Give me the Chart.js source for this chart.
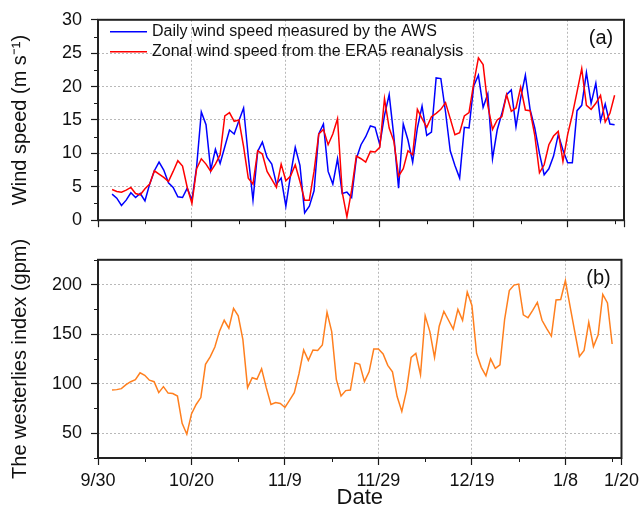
<!DOCTYPE html>
<html>
<head>
<meta charset="utf-8">
<script src="https://cdn.jsdelivr.net/npm/chart.js@4.4.1/dist/chart.umd.min.js"></script>
<style>
  html, body { margin: 0; padding: 0; background: #fff; }
  #wrap { position: relative; width: 644px; height: 511px; }
  #c1 { position: absolute; left: 0; top: 0; }
  #c2 { position: absolute; left: 0; top: 240px; }
</style>
</head>
<body>
<div id="wrap">
  <canvas id="c1" width="644" height="240"></canvas>
  <canvas id="c2" width="644" height="271"></canvas>
</div>
<script>
// days counted from 9/30; first value is on 10/3
const firstDay = 3;
const xTickDays = [0, 20, 40, 60, 80, 100, 112];
const xTickLabels = ['9/30', '10/20', '11/9', '11/29', '12/19', '1/8', '1/20'];
const xMinorDays = [10, 30, 50, 70, 90, 110];

const awsWind = [
  3.9, 3.3, 2.2, 3.0, 4.1, 3.4, 4.0, 2.9, 5.4, 7.4,
  8.7, 7.5, 5.6, 4.9, 3.5, 3.4, 4.8, 3.0, 8.0, 16.2,
  14.3, 7.5, 10.6, 8.5, 11.0, 13.5, 12.9, 14.9, 16.8, 9.5,
  3.0, 10.3, 11.7, 9.4, 8.4, 5.4, 6.3, 2.1, 6.8, 10.9,
  8.2, 1.1, 2.1, 4.4, 12.9, 14.4, 7.3, 5.4, 9.2, 4.0,
  4.2, 3.4, 9.2, 11.3, 12.5, 14.1, 13.9, 11.3, 15.7, 18.8,
  12.5, 4.8, 14.4, 12.0, 8.7, 13.8, 17.1, 12.7, 13.2, 21.3,
  21.2, 16.2, 10.4, 8.2, 6.3, 13.9, 13.8, 20.1, 21.7, 16.9,
  18.9, 9.2, 13.5, 16.0, 18.8, 19.5, 14.0, 18.3, 21.7, 16.6,
  13.8, 10.0, 6.8, 7.7, 9.6, 12.8, 10.5, 8.6, 8.6, 16.4,
  17.2, 22.1, 17.5, 20.5, 14.9, 17.4, 14.4, 14.3
];

const era5Wind = [
  4.6, 4.3, 4.2, 4.5, 4.9, 4.0, 3.8, 4.7, 5.4, 7.4,
  6.9, 6.4, 5.8, 7.3, 8.9, 8.1, 4.9, 2.5, 7.7, 9.2,
  8.4, 7.3, 8.4, 9.8, 15.6, 16.1, 14.8, 15.0, 11.0, 6.3,
  5.4, 10.4, 9.9, 7.3, 6.1, 4.9, 8.4, 5.9, 6.6, 8.3,
  5.8, 3.0, 3.0, 7.3, 12.9, 13.6, 11.3, 12.9, 15.2, 4.2,
  0.5, 4.5, 9.6, 9.2, 8.7, 10.3, 10.2, 10.9, 18.2, 13.8,
  11.8, 6.6, 7.7, 10.4, 9.8, 16.6, 15.2, 13.9, 15.5, 16.0,
  16.6, 17.6, 15.2, 12.8, 13.1, 15.6, 16.1, 20.5, 24.3, 23.3,
  17.2, 13.6, 15.0, 15.5, 18.8, 16.3, 16.8, 19.9, 16.5, 16.4,
  12.7, 7.1, 8.3, 11.3, 12.6, 13.3, 8.8, 12.8, 15.8, 19.2,
  22.7, 17.2, 16.6, 17.5, 18.7, 14.7, 16.0, 18.7
];

const westerlies = [
  93.5, 94, 95, 99, 102, 104, 111, 108.5, 103.5, 102,
  91, 97, 90.5, 90, 87.5, 60, 49, 69.5, 79, 86,
  119.5, 127, 137, 153, 164, 156, 176, 168.5, 144.5, 96,
  106, 104.5, 115, 96, 79, 81, 80, 76, 83.5, 91,
  110, 134, 123.5, 134, 133.5, 139, 172, 152.5, 104, 87.5,
  93, 93.5, 121, 119.5, 102, 112, 135, 135, 130, 118.5,
  112, 87, 72, 93, 126.5, 130.5, 109, 168.5, 152.5, 126.5,
  158, 173, 164, 155, 175, 164, 192.5, 179, 130.5, 116.5,
  108, 125, 115.5, 119, 165, 194, 199.5, 200.5, 169.5, 166.5,
  174, 182, 164, 155.5, 148, 184.5, 185, 204, 178, 152.5,
  127.5, 133.5, 162, 137.5, 149, 190, 181.5, 140
];

const windTicks = [0, 5, 10, 15, 20, 25, 30];
const windMinor = [2.5, 7.5, 12.5, 17.5, 22.5, 27.5];
const westTicks = [50, 100, 150, 200];
const westMinor = [25, 75, 125, 175, 225];

const FONT = "'Liberation Sans', Arial, sans-serif";
Chart.defaults.font.family = FONT;
Chart.defaults.color = '#111';

function toPoints(arr) {
  return arr.map((v, i) => ({ x: firstDay + i, y: v }));
}

const gridColor = (edges) => (c) =>
  (c.tick && edges.includes(c.tick.value)) ? 'rgba(0,0,0,0)' : '#b9b9b9';

// frame, minor ticks, legend and panel tag
const panelDeco = {
  id: 'panelDeco',
  afterDraw(chart, args, o) {
    const { ctx, chartArea: a } = chart;
    const x = chart.scales.x, y = chart.scales.y;
    ctx.save();
    ctx.strokeStyle = '#1a1a1a';
    ctx.lineWidth = 1;
    ctx.beginPath();
    o.xMinor.forEach(v => {
      const px = Math.round(x.getPixelForValue(v)) + 0.5;
      ctx.moveTo(px, a.bottom); ctx.lineTo(px, a.bottom + 4);
    });
    o.yMinor.forEach(v => {
      const py = Math.round(y.getPixelForValue(v)) + 0.5;
      ctx.moveTo(a.left, py); ctx.lineTo(a.left - 4, py);
    });
    ctx.stroke();
    ctx.strokeStyle = '#222';
    ctx.lineWidth = 2;
    ctx.strokeRect(a.left, a.top, a.right - a.left, a.bottom - a.top);

    ctx.fillStyle = '#111';
    ctx.textBaseline = 'middle';
    if (o.legend) {
      ctx.font = '16px ' + FONT;
      chart.data.datasets.forEach((ds, i) => {
        const ly = a.top + 12 + i * 20;
        ctx.strokeStyle = ds.borderColor;
        ctx.lineWidth = 1.5;
        ctx.beginPath();
        ctx.moveTo(a.left + 12, ly); ctx.lineTo(a.left + 49, ly);
        ctx.stroke();
        ctx.fillText(ds.label, a.left + 54, ly);
      });
    }
    ctx.font = '20px ' + FONT;
    ctx.textAlign = 'center';
    ctx.fillText(o.tag, a.right - 23, a.top + 19);
    ctx.restore();
  }
};

function xScale(showLabels, h) {
  return {
    type: 'linear', min: 0, max: 112,
    afterBuildTicks: s => { s.ticks = xTickDays.map(v => ({ value: v })); },
    afterFit: s => { s.height = h; },
    ticks: {
      display: showLabels, autoSkip: false, maxRotation: 0, padding: 5,
      font: { size: 18 },
      callback: v => xTickLabels[xTickDays.indexOf(v)]
    },
    grid: { color: gridColor([0, 112]), tickColor: '#1a1a1a', tickLength: 7, tickWidth: 1.2, tickBorderDash: [] },
    border: { display: false, dash: [2, 2] }
  };
}

function yScale(min, max, ticks, title) {
  return {
    min: min, max: max,
    afterBuildTicks: s => { s.ticks = ticks.map(v => ({ value: v })); },
    afterFit: s => { s.width = 98; },
    ticks: { font: { size: 18 }, padding: 9 },
    grid: { color: gridColor([min, max]), tickColor: '#1a1a1a', tickLength: 7, tickWidth: 1.2, tickBorderDash: [] },
    border: { display: false, dash: [2, 2] },
    title: { display: true, text: title, font: { size: 20 }, padding: { top: 8, bottom: 0 } }
  };
}

new Chart('c1', {
  type: 'line',
  data: {
    datasets: [
      { label: 'Daily wind speed measured by the AWS', data: toPoints(awsWind),
        borderColor: '#0000ff', borderWidth: 1.5, pointRadius: 0, order: 2 },
      { label: 'Zonal wind speed from the ERA5 reanalysis', data: toPoints(era5Wind),
        borderColor: '#ff0000', borderWidth: 1.5, pointRadius: 0, order: 1 }
    ]
  },
  options: {
    responsive: false, animation: false,
    layout: { padding: { top: 16, right: 20, left: 0, bottom: 0 } },
    plugins: {
      legend: { display: false }, tooltip: { enabled: false },
      panelDeco: { xMinor: xMinorDays, yMinor: windMinor, legend: true, tag: '(a)' }
    },
    scales: {
      x: xScale(false, 12),
      y: yScale(0, 30, windTicks, 'Wind speed (m s\u207B\u00B9)')
    }
  },
  plugins: [panelDeco]
});

const x2 = xScale(true, 53);
x2.title = { display: true, text: 'Date', font: { size: 22 }, padding: { top: 0, bottom: 0 } };

new Chart('c2', {
  type: 'line',
  data: {
    datasets: [
      { label: 'The westerlies index', data: toPoints(westerlies),
        borderColor: '#ff7f1e', borderWidth: 1.5, pointRadius: 0 }
    ]
  },
  options: {
    responsive: false, animation: false,
    layout: { padding: { top: 6, right: 20, left: 0, bottom: 0 } },
    plugins: {
      legend: { display: false }, tooltip: { enabled: false },
      panelDeco: { xMinor: xMinorDays, yMinor: westMinor, legend: false, tag: '(b)' }
    },
    scales: {
      x: x2,
      y: yScale(25, 225, westTicks, 'The westerlies index (gpm)')
    }
  },
  plugins: [panelDeco]
});
</script>
</body>
</html>
